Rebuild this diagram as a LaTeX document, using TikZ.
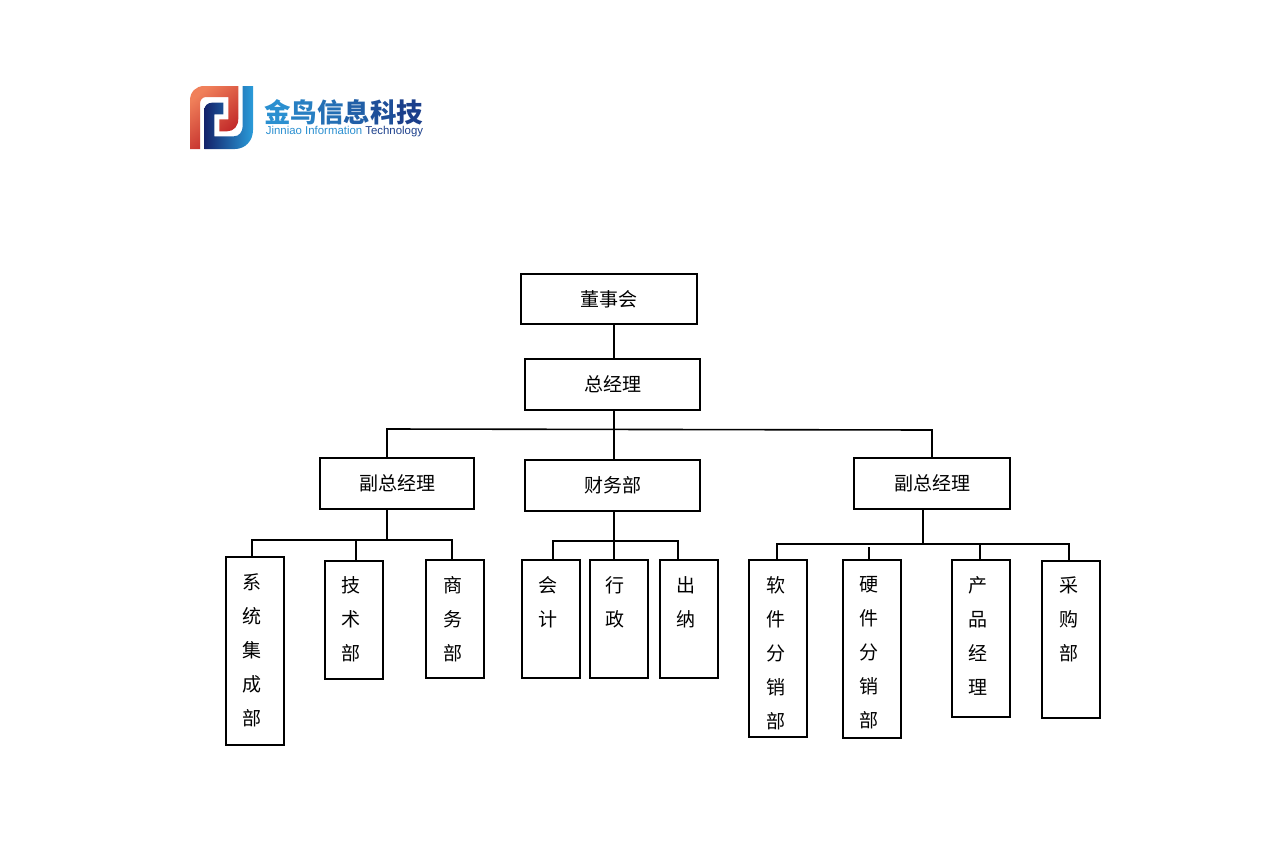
\documentclass[tikz,border=0pt]{standalone}
\usepackage{xcolor}
\usepackage{fontspec}
\setmainfont{Noto Sans CJK SC}
\newfontfamily\latinlogo{Liberation Sans}
\usetikzlibrary{positioning, calc}
\definecolor{ink}{HTML}{000000}
\definecolor{logoa}{HTML}{2A8FD0}
\definecolor{logob}{HTML}{1B3F8B}
\definecolor{logored}{HTML}{DC2228}
\definecolor{logoorange}{HTML}{F0805A}
\definecolor{logonavy}{HTML}{14226A}
\definecolor{logoblue}{HTML}{2A9CDA}

\begin{document}
\begin{tikzpicture}[x=1pt, y=-1pt, font=\fontsize{19}{34}\selectfont,
  s/.style={draw=ink, line width=1.6pt, inner sep=0pt},
  v/.style={anchor=north, align=center, inner sep=0pt},
  lab/.style={inner sep=0pt},
  arr/.style={line width=1.6pt, ink}
]
  \useasboundingbox (0,0) rectangle (1287,846);

  % logo
  \path[left color=logoorange, middle color=logored, right color=logored!85!black, shading angle=40]
    (190,149) -- (190,100.3) .. controls (190,92) and (196,86) .. (204,86) -- (238.3,86)
    -- (238.3,118.7) .. controls (238.3,126) and (234,131.3) .. (227,131.3) -- (219.3,131.3) -- (219.3,119.3) -- (228.3,119.3)
    -- (228.3,97) -- (206,97) .. controls (202.5,97) and (200,100) .. (200,103.7) -- (200,149) -- cycle;
  \path[left color=logonavy, right color=logoblue]
    (204.3,149) -- (204.3,110) .. controls (204.3,105.5) and (208,102.7) .. (212,102.7) -- (223.3,102.7)
    -- (223.3,114.3) -- (214.3,114.3) -- (214.3,136.3) -- (234,136.3) .. controls (239,136.3) and (242.7,132) .. (242.7,126)
    -- (242.7,86) -- (253,86) -- (253,130) .. controls (253,141) and (245,149) .. (235,149) -- cycle;
  \node[lab, font=\fontsize{26.5}{30}\selectfont\bfseries] (logotext) at (343.5,112)
    {\textcolor{logoa}{金}\textcolor{logoa!80!logob}{鸟}\textcolor{logoa!60!logob}{信}\textcolor{logoa!40!logob}{息}\textcolor{logoa!20!logob}{科}\textcolor{logob}{技}};
  \node[lab, font=\fontsize{11.4}{13}\selectfont\latinlogo] (logoen) at (344.5,131.5)
    {\textcolor{logoa}{Jinniao Information} \textcolor{logob}{Technology}};

  \node[s, minimum width=176pt, minimum height=50pt] (dsh) at (609,299) {董事会};
  \node[s, minimum width=175pt, minimum height=51pt] (zjl) at (612.5,384.5) {总经理};
  \node[s, minimum width=154pt, minimum height=51pt] (fua) at (397,483.5) {副总经理};
  \node[s, minimum width=175pt, minimum height=51pt] (cwb) at (612.5,485.5) {财务部};
  \node[s, minimum width=156pt, minimum height=51pt] (fub) at (932,483.5) {副总经理};

  \node[s, minimum width=58pt, minimum height=188pt] (xt) at (255,651) {};
  \node[s, minimum width=58pt, minimum height=118pt] (js) at (354,620) {};
  \node[s, minimum width=58pt, minimum height=118pt] (sw) at (455,619) {};
  \node[s, minimum width=58pt, minimum height=118pt] (kj) at (551,619) {};
  \node[s, minimum width=58pt, minimum height=118pt] (xz) at (619,619) {};
  \node[s, minimum width=58pt, minimum height=118pt] (cn) at (689,619) {};
  \node[s, minimum width=58pt, minimum height=177pt] (rj) at (778,648.5) {};
  \node[s, minimum width=58pt, minimum height=178pt] (yj) at (872,649) {};
  \node[s, minimum width=58pt, minimum height=157pt] (cp) at (981,638.5) {};
  \node[s, minimum width=58pt, minimum height=157pt] (cg) at (1071,639.5) {};

  \node[v] (xtt) at (252,573.5) {系\\统\\集\\成\\部};
  \node[v] (jst) at (351,576.5) {技\\术\\部};
  \node[v] (swt) at (452.5,576.5) {商\\务\\部};
  \node[v] (kjt) at (548,576.5) {会\\计};
  \node[v] (xzt) at (615,576.5) {行\\政};
  \node[v] (cnt) at (686,576.5) {出\\纳};
  \node[v] (rjt) at (775.5,576.5) {软\\件\\分\\销\\部};
  \node[v] (yjt) at (869,576.5) {硬\\件\\分\\销\\部};
  \node[v] (cpt) at (978,576.5) {产\\品\\经\\理};
  \node[v] (cgt) at (1069,576.5) {采\\购\\部};

  \coordinate (top) at (614,429);
  \coordinate (busl) at (387,429);
  \coordinate (busr) at (932,430);
  \coordinate (al) at (251,540);
  \coordinate (am) at (387,540);
  \coordinate (ar) at (452,540);
  \coordinate (ab) at (356,540);
  \coordinate (ac) at (252,540);
  \coordinate (bl) at (553,541);
  \coordinate (bm) at (614,541);
  \coordinate (br) at (678,541);
  \coordinate (cl) at (777,544);
  \coordinate (cm) at (923,544);
  \coordinate (cr) at (1069,544);
  \coordinate (cb) at (869,547);
  \coordinate (cc) at (980,544);

  \draw[arr] (dsh.south -| top) -- (zjl.north -| top);
  \draw[arr] (zjl.south -| top) -- (cwb.north -| top);
  \draw[arr] (fua.north -| busl) -- (busl) -- (busr) -- (fub.north -| busr);

  \draw[arr] (fua.south -| am) -- (am);
  \draw[arr] (al) -- (ar) -- (sw.north -| ar);
  \draw[arr] (ac) -- (xt.north -| ac);
  \draw[arr] (ab) -- (js.north -| ab);

  \draw[arr] (cwb.south -| bm) -- (xz.north -| bm);
  \draw[arr] (kj.north -| bl) -- (bl) -- (br) -- (cn.north -| br);

  \draw[arr] (fub.south -| cm) -- (cm);
  \draw[arr] (rj.north -| cl) -- (cl) -- (cr) -- (cg.north -| cr);
  \draw[arr] (cb) -- (yj.north -| cb);
  \draw[arr] (cc) -- (cp.north -| cc);
\end{tikzpicture}
\end{document}
